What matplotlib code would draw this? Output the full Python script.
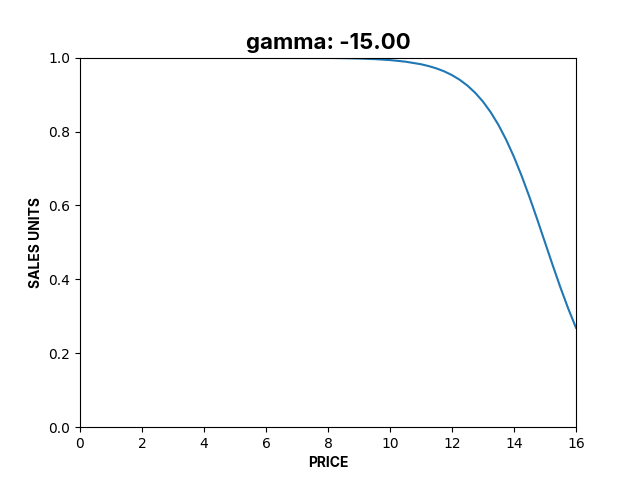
import matplotlib
matplotlib.use("Agg")
import matplotlib.pyplot as plt

# price points and sales units
price = [0, 1, 2, 3, 4, 5, 6, 7, 8, 8.5, 9, 9.5, 10, 10.5, 11, 11.25, 11.5, 11.75,
         12, 12.25, 12.5, 12.75, 13, 13.25, 13.5, 13.75, 14, 14.25, 14.5, 14.75,
         15, 15.25, 15.5, 15.75, 16]
sales = [1.0, 1.0, 1.0, 1.0, 1.0, 0.9999, 0.9999, 0.9997, 0.9991, 0.9985, 0.9975,
         0.9959, 0.9933, 0.9890, 0.9820, 0.9770, 0.9707, 0.9627, 0.9526, 0.9399,
         0.9241, 0.9047, 0.8808, 0.8520, 0.8176, 0.7773, 0.7311, 0.6792, 0.6225,
         0.5622, 0.5, 0.4378, 0.3775, 0.3208, 0.2689]
gamma = -15.0

fig, ax = plt.subplots(figsize=(6.4, 4.8), dpi=100)
ax.plot(price, sales, color="#1f77b4", linewidth=1.5)
ax.set_xlim(0, 16)
ax.set_ylim(0, 1)
ax.set_title("gamma: %.2f" % gamma, fontsize=16, fontweight="bold", family=["Inter", "DejaVu Sans"])
ax.set_xlabel("PRICE", fontweight="bold", family=["Inter", "DejaVu Sans"])
ax.set_ylabel("SALES UNITS", fontweight="bold", family=["Inter", "DejaVu Sans"])
fig.savefig("out.png")
